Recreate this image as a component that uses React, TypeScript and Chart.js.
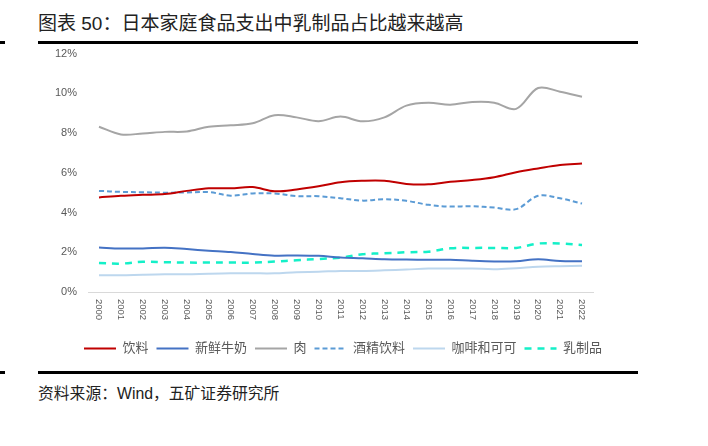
import React, { useEffect, useRef } from "react";
import { Chart, registerables } from "chart.js";

Chart.register(...registerables);

const years = ["2000","2001","2002","2003","2004","2005","2006","2007","2008","2009","2010","2011","2012","2013","2014","2015","2016","2017","2018","2019","2020","2021","2022"];
const yTicks = [0, 2, 4, 6, 8, 10, 12];

const beverages = [4.76,4.84,4.89,4.93,5.09,5.22,5.22,5.28,5.07,5.16,5.32,5.53,5.6,5.6,5.44,5.42,5.55,5.64,5.78,6.03,6.22,6.39,6.47];
const freshMilk = [2.24,2.19,2.19,2.23,2.16,2.08,2.01,1.91,1.83,1.84,1.82,1.74,1.7,1.65,1.63,1.62,1.62,1.57,1.54,1.55,1.65,1.56,1.55];
const meat = [8.32,7.93,7.98,8.06,8.08,8.32,8.39,8.49,8.9,8.79,8.6,8.83,8.59,8.79,9.38,9.52,9.43,9.56,9.53,9.22,10.27,10.08,9.83];
const alcohol = [5.09,5.04,5.02,5.0,5.01,5.03,4.85,4.96,4.96,4.83,4.82,4.72,4.6,4.67,4.59,4.39,4.3,4.32,4.25,4.17,4.84,4.72,4.45];
const coffee = [0.84,0.84,0.87,0.89,0.89,0.92,0.94,0.94,0.94,1.0,1.02,1.06,1.06,1.09,1.13,1.18,1.18,1.18,1.15,1.2,1.27,1.3,1.32];
const dairy = [1.46,1.43,1.52,1.5,1.48,1.48,1.48,1.48,1.53,1.6,1.66,1.73,1.9,1.95,2.0,2.03,2.2,2.22,2.22,2.22,2.44,2.44,2.37];

const seriesNames = ["饮料", "新鲜牛奶", "肉", "酒精饮料", "咖啡和可可", "乳制品"];

const LATIN = "'Liberation Sans', Arial, 'Noto Sans CJK SC', sans-serif";
const TEXT_GRAY = "#595959";
const LEGEND_LINE = 32;

const xLabelPlugin = {
  id: "xLabelsRotated",
  afterDraw(chart: any) {
    const xs = chart.scales.x;
    const ctx = chart.ctx;
    ctx.save();
    ctx.font = `9.5px ${LATIN}`;
    ctx.fillStyle = TEXT_GRAY;
    ctx.textAlign = "left";
    ctx.textBaseline = "middle";
    years.forEach((lab, i) => {
      const x = xs.getPixelForTick(i);
      ctx.save();
      ctx.translate(x, xs.top + 7);
      ctx.rotate(Math.PI / 2);
      ctx.fillText(lab, 0, 0);
      ctx.restore();
    });
    ctx.restore();
  },
};

const legendLinePlugin = {
  id: "legendLines",
  afterDraw(chart: any) {
    const lg = chart.legend;
    if (!lg || !lg.legendHitBoxes) return;
    const ctx = chart.ctx;
    lg.legendHitBoxes.forEach((hb: any, i: number) => {
      const ds = chart.data.datasets[i];
      const y = hb.top + hb.height / 2;
      ctx.save();
      ctx.strokeStyle = ds.borderColor;
      ctx.lineWidth = ds.borderWidth;
      ctx.setLineDash(ds.borderDash || []);
      ctx.beginPath();
      ctx.moveTo(hb.left, y);
      ctx.lineTo(hb.left + LEGEND_LINE, y);
      ctx.stroke();
      ctx.restore();
    });
  },
};

export default function App() {
  const ref = useRef<HTMLCanvasElement | null>(null);

  useEffect(() => {
    if (!ref.current) return;
    const mk = (label: string, data: number[], color: string, width: number, dash: number[] = []) => ({
      label,
      data,
      borderColor: color,
      backgroundColor: color,
      borderWidth: width,
      borderDash: dash,
      pointRadius: 0,
      tension: 0.35,
      fill: false,
    });
    const chart = new Chart(ref.current, {
      type: "line",
      data: {
        labels: years,
        datasets: [
          mk(seriesNames[0], beverages, "#C00000", 2),
          mk(seriesNames[1], freshMilk, "#4472C4", 2),
          mk(seriesNames[2], meat, "#A5A5A5", 2),
          mk(seriesNames[3], alcohol, "#5B9BD5", 2, [5, 3]),
          mk(seriesNames[4], coffee, "#BDD7EE", 2),
          mk(seriesNames[5], dairy, "#14F0C8", 2.5, [7, 6]),
        ],
      },
      options: {
        animation: false,
        responsive: true,
        maintainAspectRatio: false,
        layout: { padding: { top: 0, bottom: 0, left: 0, right: 0 } },
        plugins: {
          legend: {
            position: "bottom",
            labels: {
              usePointStyle: true,
              pointStyle: "line",
              pointStyleWidth: LEGEND_LINE,
              color: TEXT_GRAY,
              font: { size: 13, family: LATIN },
              padding: 8,
              generateLabels: (c: any) =>
                Chart.defaults.plugins.legend.labels.generateLabels(c).map((it: any) => ({
                  ...it,
                  strokeStyle: "rgba(0,0,0,0)",
                  fillStyle: "rgba(0,0,0,0)",
                  lineWidth: 0,
                })),
            },
          },
          tooltip: { enabled: false },
        },
        scales: {
          x: {
            offset: true,
            grid: { display: false },
            border: { display: true, color: "#D9D9D9", width: 1 },
            ticks: { display: false },
            afterFit: (s: any) => { s.height = 42; },
          },
          y: {
            min: 0,
            max: 12,
            afterBuildTicks: (s: any) => { s.ticks = yTicks.map((v) => ({ value: v })); },
            grid: { display: false, drawTicks: false },
            border: { display: false },
            ticks: {
              padding: 11,
              color: TEXT_GRAY,
              font: { size: 11, family: LATIN },
              callback: (v: any) => `${v}%`,
            },
            afterFit: (s: any) => { s.width = 88; },
          },
          yr: {
            type: "linear",
            position: "right",
            display: true,
            grid: { display: false, drawTicks: false },
            border: { display: false },
            ticks: { display: false },
            afterFit: (s: any) => { s.width = 93; },
          },
        },
      },
      plugins: [xLabelPlugin, legendLinePlugin],
    } as any);
    return () => chart.destroy();
  }, []);

  const cjk = "'Liberation Sans', Arial, 'Noto Sans CJK SC', sans-serif";

  return (
    <div style={{ position: "absolute", left: 0, top: 0, width: 708, height: 446, background: "#fff", overflow: "hidden" }}>
      <div style={{ position: "absolute", left: 38, top: 12, fontSize: 19, lineHeight: "24px", color: "#222", fontFamily: cjk, whiteSpace: "nowrap" }}>
        图表 50：日本家庭食品支出中乳制品占比越来越高
      </div>
      <div style={{ position: "absolute", left: 38, top: 41, width: 600, height: 2.5, background: "#000" }} />
      <div style={{ position: "absolute", left: 0, top: 41, width: 5, height: 2.5, background: "#000" }} />
      <div style={{ position: "absolute", left: 0, top: 36, width: 686, height: 329 }}>
        <canvas ref={ref} />
      </div>
      <div style={{ position: "absolute", left: 38, top: 371, width: 600, height: 2.5, background: "#000" }} />
      <div style={{ position: "absolute", left: 0, top: 371, width: 5, height: 2.5, background: "#000" }} />
      <div style={{ position: "absolute", left: 38, top: 384, fontSize: 15.8, lineHeight: "20px", color: "#222", fontFamily: cjk, whiteSpace: "nowrap" }}>
        资料来源：Wind，五矿证券研究所
      </div>
    </div>
  );
}
